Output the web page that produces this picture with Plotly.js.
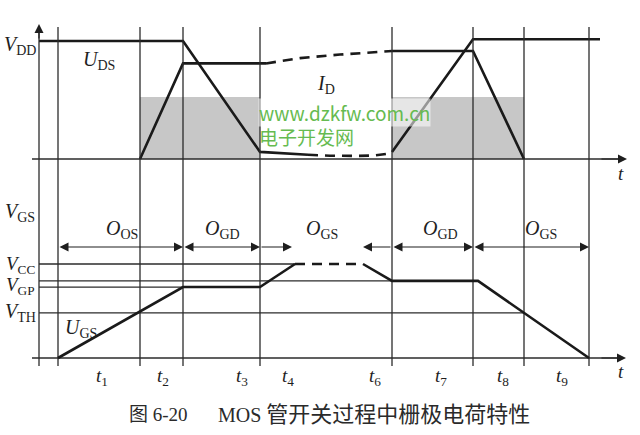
<!DOCTYPE html>
<html><head><meta charset="utf-8">
<script src="https://cdn.plot.ly/plotly-3.0.1.min.js"></script>
<style>html,body{margin:0;padding:0;background:#fff}#chart{width:640px;height:435px}</style>
</head><body><div id="chart"></div>
<script>
// ---------- data (time in arbitrary units along x) ----------
const tInstants = [58, 140, 183, 260, 392, 473, 524, 589];
const tLabels   = ['1', '2', '3', '4', '6', '7', '8', '9'];
const tLabelX   = [102, 163, 242, 288, 375, 441, 503, 562];

// top panel: drain quantities in % of VDD
const udsX1 = [39, 183, 260, 308];
const udsY1 = [100, 100, 6, 3.6];
const udsXd = [308, 330, 355, 375, 386, 392];
const udsYd = [3.6, 2.8, 2.6, 3.0, 4.2, 6];
const udsX2 = [392, 473, 600];
const udsY2 = [6, 101.5, 101.5];

const idX1 = [140, 183, 266];
const idY1 = [0, 81, 81];
const idXd = [266, 300, 340, 392];
const idYd = [81, 85.5, 88.5, 91.5];
const idX2 = [392, 473, 524];
const idY2 = [91.5, 91.5, 0];

const shadeStart = [140, 392];
const shadeEnd   = [260, 524];
const shadeLevel = 52.5;

// bottom panel: gate voltage levels
const VCC = 10, VGP = 8.2, VGPon = 7.55, VTH = 4.8;
const ugsX1 = [58, 183, 260, 295];
const ugsY1 = [0, VGPon, VGPon, VCC];
const ugsXd = [295, 363];
const ugsYd = [VCC, VCC];
const ugsX2 = [363, 392, 478, 589];
const ugsY2 = [VCC, VGP, VGP, 0];

const refLevels = [VCC, VGP, VGPon, VTH];
const refStart  = [39, 39, 39, 39];
const refEnd    = [295, 392, 183, 524];

// charge intervals (arrows)
const ivFrom  = [58, 183, 260, 392, 392, 473];
const ivTo    = [183, 260, 292, 363, 473, 589];
const ivBoth  = [true, true, false, false, true, true];
const ivNames = ['OS', 'GD', 'GS', 'GD', 'GS'];
const ivNameX = [122, 222, 322, 440, 541];

// ---------- helpers (pixel -> axis units for layout) ----------
const H = 435;
function rangeFor(va, pa, vb, pb) {
  const span = H * (vb - va) / (pa - pb);
  const r1 = va + pa * span / H;
  return [r1 - span, r1];
}
const yTop = p => (159 - p) / 1.18;
const yBot = p => (358 - p) / 9.4;

const thin = {color: '#2b2b2b', width: 1.3};
const thick = {color: '#1a1a1a', width: 2.6};
const dashThick = {color: '#1a1a1a', width: 2.6, dash: '10px,7px'};

const traces = [];
function line(x, y, ln, yaxis, extra) {
  traces.push(Object.assign({type: 'scatter', mode: 'lines', x: x, y: y, line: ln,
    yaxis: yaxis, hoverinfo: 'skip', showlegend: false}, extra || {}));
}

// shading
for (let i = 0; i < shadeStart.length; i++) {
  line([shadeStart[i], shadeStart[i], shadeEnd[i], shadeEnd[i], shadeStart[i]],
       [0, shadeLevel, shadeLevel, 0, 0], {width: 0, color: 'rgba(0,0,0,0)'}, 'y',
       {fill: 'toself', fillcolor: '#c7c7c7'});
}
// vertical time lines
let vx = [], vy = [];
tInstants.forEach(t => { vx.push(t, t, null); vy.push(yBot(27), yBot(366), null); });
line(vx, vy, thin, 'y2');
// left axis
line([39, 39], [yBot(30), yBot(366)], thin, 'y2');
// baselines
line([32, 620], [0, 0], thin, 'y');
line([32, 620], [0, 0], thin, 'y2');
// reference levels
for (let i = 0; i < refLevels.length; i++) {
  line([refStart[i], refEnd[i]], [refLevels[i], refLevels[i]], thin, 'y2');
}
// waveforms
line(udsX1, udsY1, thick, 'y');
line(udsXd, udsYd, dashThick, 'y');
line(udsX2, udsY2, thick, 'y');
line(idX1, idY1, thick, 'y');
line(idXd, idYd, dashThick, 'y');
line(idX2, idY2, thick, 'y');
line(ugsX1, ugsY1, thick, 'y2');
line(ugsXd, ugsYd, dashThick, 'y2');
line(ugsX2, ugsY2, thick, 'y2');

// ---------- annotations ----------
const ann = [];
const sym = 'Liberation Serif, Times New Roman, serif';
function label(text, x, y, yref, size, extra) {
  ann.push(Object.assign({text: text, x: x, y: y, xref: 'x', yref: yref, showarrow: false,
    xanchor: 'center', yanchor: 'middle', font: {family: sym, size: size || 20, color: '#1e1e1e'}}, extra || {}));
}
function arrow(x0, x1, y, yref, both) {
  ann.push({text: '', x: x1, y: y, ax: x0, ay: y, xref: 'x', yref: yref, axref: 'x', ayref: yref,
    showarrow: true, arrowhead: 2, arrowsize: 1.5, arrowwidth: 1.2, arrowcolor: '#1e1e1e',
    arrowside: both ? 'end+start' : 'end', startarrowhead: 2, startarrowsize: 1.5,
    standoff: 0, startstandoff: 0});
}
// axis arrows
arrow(600, 627, 0, 'y', false);
arrow(600, 626, 0, 'y2', false);
ann.push({text: '', x: 39, y: yBot(24), ax: 39, ay: yBot(40), xref: 'x', yref: 'y2', axref: 'x', ayref: 'y2',
  showarrow: true, arrowhead: 2, arrowsize: 1.5, arrowwidth: 1.2, arrowcolor: '#1e1e1e', standoff: 0});

// interval arrows
const yIv = yBot(247);
for (let i = 0; i < ivFrom.length; i++) arrow(ivFrom[i], ivTo[i], yIv, 'y2', ivBoth[i]);
for (let i = 0; i < ivNames.length; i++) label('<i>O</i><sub>' + ivNames[i] + '</sub>', ivNameX[i], yBot(229), 'y2');

// level labels
label('<i>V</i><sub>DD</sub>', 20, yTop(45), 'y');
label('<i>U</i><sub>DS</sub>', 99, yTop(60), 'y');
label('<i>I</i><sub>D</sub>', 326, yTop(84), 'y');
label('<i>t</i>', 621, yTop(173), 'y', 19);
label('<i>V</i><sub>GS</sub>', 20, yBot(212), 'y2');
label('<i>V</i><sub>CC</sub>', 20, yBot(265), 'y2', 19);
label('<i>V</i><sub>GP</sub>', 20, yBot(286), 'y2', 19);
label('<i>V</i><sub>TH</sub>', 20, yBot(312), 'y2');
label('<i>U</i><sub>GS</sub>', 81, yBot(328), 'y2');
label('<i>t</i>', 621, yBot(371), 'y2', 19);
for (let i = 0; i < tLabels.length; i++) label('<i>t</i><sub>' + tLabels[i] + '</sub>', tLabelX[i], yBot(377), 'y2', 19);

// watermark
ann.push({text: 'www.dzkfw.com.cn', x: 344, y: yTop(112), xref: 'x', yref: 'y', showarrow: false,
  xanchor: 'center', yanchor: 'middle', bgcolor: 'rgba(255,255,255,0.55)', borderpad: 0,
  font: {family: 'Noto Sans CJK SC, Noto Sans, sans-serif', size: 19, color: '#66bb50'}});
ann.push({text: '电子开发网', x: 257, y: yTop(136), xref: 'x', yref: 'y', showarrow: false,
  xanchor: 'left', yanchor: 'middle',
  font: {family: 'Noto Sans CJK SC, sans-serif', size: 19, color: '#66bb50'}});

// caption
ann.push({text: '图 6-20', x: 127, y: yBot(414), xref: 'x', yref: 'y2', showarrow: false,
  xanchor: 'left', yanchor: 'middle', font: {family: 'Liberation Serif, Noto Sans CJK SC', size: 19, color: '#2a2a2a'}});
ann.push({text: 'MOS <span style="font-size:22px">管开关过程中栅极电荷特性</span>', x: 216, y: yBot(414), xref: 'x', yref: 'y2', showarrow: false,
  xanchor: 'left', yanchor: 'middle', font: {family: 'Liberation Serif, Noto Sans CJK SC', size: 20, color: '#2a2a2a'}});

const layout = {
  width: 640, height: 435, margin: {l: 0, r: 0, t: 0, b: 0, pad: 0},
  paper_bgcolor: '#ffffff', plot_bgcolor: '#ffffff', showlegend: false,
  xaxis: {range: [0, 640], visible: false, fixedrange: true},
  yaxis: {range: rangeFor(0, 159, 100, 41), visible: false, fixedrange: true, domain: [0, 1]},
  yaxis2: {range: rangeFor(0, 358, 10, 264), visible: false, fixedrange: true, overlaying: 'y'},
  annotations: ann
};
Plotly.newPlot('chart', traces, layout, {staticPlot: true, displayModeBar: false});
</script></body></html>
